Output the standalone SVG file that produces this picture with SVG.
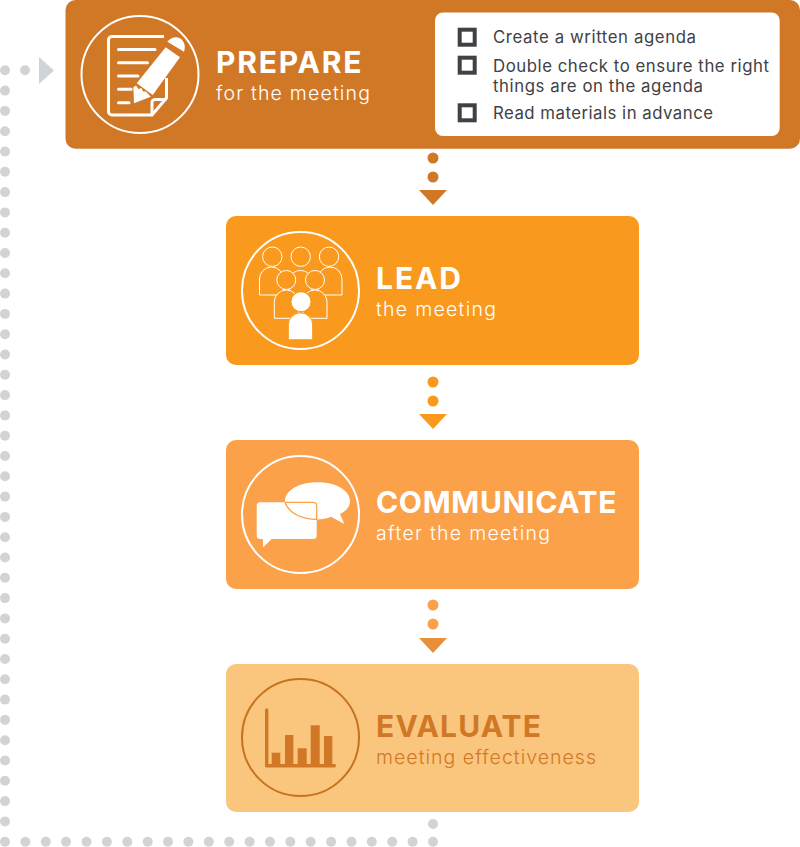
<svg xmlns="http://www.w3.org/2000/svg" width="800" height="847" viewBox="0 0 800 847">
<style>
text{font-family:"Inter","Liberation Sans",sans-serif}
.t{font-size:30px;font-weight:700;fill:#fff}
.s{font-size:19.500px;font-weight:300;fill:#fff}
.l{font-size:16.800px;font-weight:400;fill:#3f4145}
.g{fill:#d1d4d7}
.ring{fill:none;stroke:#fff;stroke-width:2}
.thin{fill:#f9991d;stroke:#fff;stroke-width:1}
.box{fill:none;stroke:#3f4145;stroke-width:4}
.ln{stroke:#fff;stroke-width:3;stroke-linecap:round}
</style>
<defs>
<circle id="d" r="5"/>
</defs>
<g id="connectors">
<g id="return-loop" class="g">
<use href="#d" x="5" y="70.3"/><use href="#d" x="25" y="70.3"/>
<use href="#d" x="5" y="90.6"/><use href="#d" x="5" y="110.9"/><use href="#d" x="5" y="131.2"/><use href="#d" x="5" y="151.5"/><use href="#d" x="5" y="171.8"/><use href="#d" x="5" y="192.1"/><use href="#d" x="5" y="212.4"/><use href="#d" x="5" y="232.7"/><use href="#d" x="5" y="253"/><use href="#d" x="5" y="273.3"/><use href="#d" x="5" y="293.6"/><use href="#d" x="5" y="313.9"/><use href="#d" x="5" y="334.2"/><use href="#d" x="5" y="354.5"/><use href="#d" x="5" y="374.8"/><use href="#d" x="5" y="395.1"/><use href="#d" x="5" y="415.4"/><use href="#d" x="5" y="435.7"/><use href="#d" x="5" y="456"/><use href="#d" x="5" y="476.3"/><use href="#d" x="5" y="496.6"/><use href="#d" x="5" y="516.9"/><use href="#d" x="5" y="537.2"/><use href="#d" x="5" y="557.5"/><use href="#d" x="5" y="577.8"/><use href="#d" x="5" y="598.1"/><use href="#d" x="5" y="618.4"/><use href="#d" x="5" y="638.7"/><use href="#d" x="5" y="659"/><use href="#d" x="5" y="679.3"/><use href="#d" x="5" y="699.6"/><use href="#d" x="5" y="719.9"/><use href="#d" x="5" y="740.2"/><use href="#d" x="5" y="760.5"/><use href="#d" x="5" y="780.8"/><use href="#d" x="5" y="801.1"/><use href="#d" x="5" y="821.4"/><use href="#d" x="5" y="841.7"/>
<use href="#d" x="25.4" y="841.7"/><use href="#d" x="45.8" y="841.7"/><use href="#d" x="66.1" y="841.7"/><use href="#d" x="86.5" y="841.7"/><use href="#d" x="106.9" y="841.7"/><use href="#d" x="127.3" y="841.7"/><use href="#d" x="147.7" y="841.7"/><use href="#d" x="168" y="841.7"/><use href="#d" x="188.4" y="841.7"/><use href="#d" x="208.8" y="841.7"/><use href="#d" x="229.2" y="841.7"/><use href="#d" x="249.6" y="841.7"/><use href="#d" x="269.9" y="841.7"/><use href="#d" x="290.3" y="841.7"/><use href="#d" x="310.7" y="841.7"/><use href="#d" x="331.1" y="841.7"/><use href="#d" x="351.5" y="841.7"/><use href="#d" x="371.8" y="841.7"/><use href="#d" x="392.2" y="841.7"/><use href="#d" x="412.6" y="841.7"/><use href="#d" x="433" y="841.7"/><use href="#d" x="433" y="824"/>
<polygon points="39,57 54,70.500 39,84"/>
</g>
<g fill="#d17827"><circle cx="433" cy="158" r="5.500"/><circle cx="433" cy="177" r="5.500"/><polygon points="419,190 447,190 433,205"/></g>
<g fill="#f9991d"><circle cx="433" cy="382" r="5.500"/><circle cx="433" cy="401" r="5.500"/><polygon points="419,414 447,414 433,429"/></g>
<g fill="#fba14a"><circle cx="433" cy="605" r="5.500"/><circle cx="433" cy="624" r="5.500"/></g>
<polygon fill="#e88f3a" points="419,638 447,638 433,653"/>
</g>
<g id="prepare">
<rect x="65.500" y="0" width="734.500" height="148.700" rx="10" fill="#d17827"/>
<circle class="ring" cx="140" cy="74.500" r="58.500"/>
<path fill="none" stroke="#fff" stroke-width="3" stroke-linejoin="round" d="M164 36.500H112a3.500 3.500 0 0 0-3.500 3.500V111.500a3.500 3.500 0 0 0 3.500 3.500H152M166.500 78V98L152 115V103a3 3 0 0 1 3-3.500H166.500"/>
<g class="ln"><line x1="118.500" y1="49.500" x2="155" y2="49.500"/><line x1="118.500" y1="62.700" x2="147.500" y2="62.700"/><line x1="118.500" y1="76" x2="138" y2="76"/><line x1="118.500" y1="89.300" x2="131" y2="89.300"/><line x1="118.500" y1="102.700" x2="129" y2="102.700"/></g>
<path fill="#fff" d="M165.700 47.300 180 57.300 152.700 95 136.700 83.300ZM167.300 41.700C172 36 179 36 182 40C185 43 185.500 48 184 51.700ZM133.300 87.300 136 85.500 138.500 89 141.500 88 143 91.500 146 91.500 150.700 96.700 134 103.300Z"/>
<text class="t" x="216" y="73.300" textLength="145.500">PREPARE</text>
<text class="s" x="216" y="100" textLength="154">for the meeting</text>
<rect x="435" y="12.500" width="344.700" height="123.500" rx="8" fill="#fff"/>
<rect class="box" x="459.700" y="29.700" width="15" height="15"/>
<rect class="box" x="459.700" y="57.700" width="15" height="15"/>
<rect class="box" x="459.700" y="105.300" width="15" height="15"/>
<text class="l" x="493" y="43.300" textLength="203">Create a written agenda</text>
<text class="l" x="493" y="71.500" textLength="276">Double check to ensure the right</text>
<text class="l" x="493" y="91.700" textLength="210">things are on the agenda</text>
<text class="l" x="493" y="119.300" textLength="220">Read materials in advance</text>
</g>
<g id="lead">
<rect x="226" y="216" width="413" height="149" rx="10" fill="#f9991d"/>
<circle class="ring" cx="300.500" cy="290.500" r="58.500"/>
<path class="thin" d="M259.500 295V279a12 12 0 0 1 24 0V295ZM318 295V279a12 12 0 0 1 24 0V295ZM289 295V279a12 12 0 0 1 23 0V295Z"/>
<circle class="thin" cx="272.300" cy="256.700" r="9.700"/><circle class="thin" cx="300.700" cy="256.700" r="9.700"/><circle class="thin" cx="329" cy="256.700" r="9.700"/>
<path class="thin" d="M274.300 318.300V302a12 12 0 0 1 24 0V318.300ZM303 318.300V302a12 12 0 0 1 24 0V318.300Z"/>
<circle class="thin" cx="286.300" cy="280" r="9.500"/><circle class="thin" cx="315" cy="280" r="9.500"/>
<circle cx="301" cy="301.700" r="10" fill="#fff" stroke="#f9991d" stroke-width="1"/>
<path fill="#fff" stroke="#f9991d" stroke-width="1" d="M288.300 339.800V325a12.200 12.200 0 0 1 24.400 0V339.800Z"/>
<text class="t" x="376" y="289" textLength="85">LEAD</text>
<text class="s" x="376" y="316" textLength="120">the meeting</text>
</g>
<g id="communicate">
<rect x="226" y="440" width="413" height="149" rx="10" fill="#fba14a"/>
<circle class="ring" cx="300.500" cy="514.500" r="58.500"/>
<path fill="#fff" d="M317.500 482.300C337 482.300 350 491 350 501C350 507 346 511 340 514L344.300 524 331 516.700C327 518.500 322 519.500 317.500 519.500C298 519.500 285 511 285 501C285 491 298 482.300 317.500 482.300Z"/>
<path fill="#fff" d="M260.200 502.300H313.200a3.500 3.500 0 0 1 3.500 3.500V535.500a3.500 3.500 0 0 1-3.500 3.500H271.700L263.300 547.300 262.700 539H260.200a3.500 3.500 0 0 1-3.500-3.500V505.800a3.500 3.500 0 0 1 3.500-3.500Z"/>
<path fill="none" stroke="#fba14a" stroke-width="1.300" d="M285 502.300H313.200a3.500 3.500 0 0 1 3.500 3.500V519.300M285 502.300C288 512 300 519.400 317.500 519.400"/>
<text class="t" x="376" y="513" textLength="240.500">COMMUNICATE</text>
<text class="s" x="376" y="540" textLength="174">after the meeting</text>
</g>
<g id="evaluate">
<rect x="226" y="664" width="413" height="148" rx="10" fill="#fac67d"/>
<circle cx="300.500" cy="737.500" r="58.500" fill="none" stroke="#c8721f" stroke-width="2"/>
<g fill="#d17827">
<rect x="265" y="708.300" width="3.400" height="59" rx="1.700"/>
<rect x="265" y="764" width="71" height="3.400" rx="1.700"/>
<rect x="271.700" y="752.700" width="8.600" height="12"/><rect x="285" y="735" width="8.400" height="30"/><rect x="297.700" y="748.300" width="9" height="16.500"/><rect x="310.700" y="725.300" width="9" height="39.500"/><rect x="324" y="736" width="8.300" height="29"/>
</g>
<text class="t" x="376" y="737" textLength="165" style="fill:#d17827">EVALUATE</text>
<text class="s" x="376" y="764" textLength="220" style="fill:#d17827">meeting effectiveness</text>
</g>
</svg>
